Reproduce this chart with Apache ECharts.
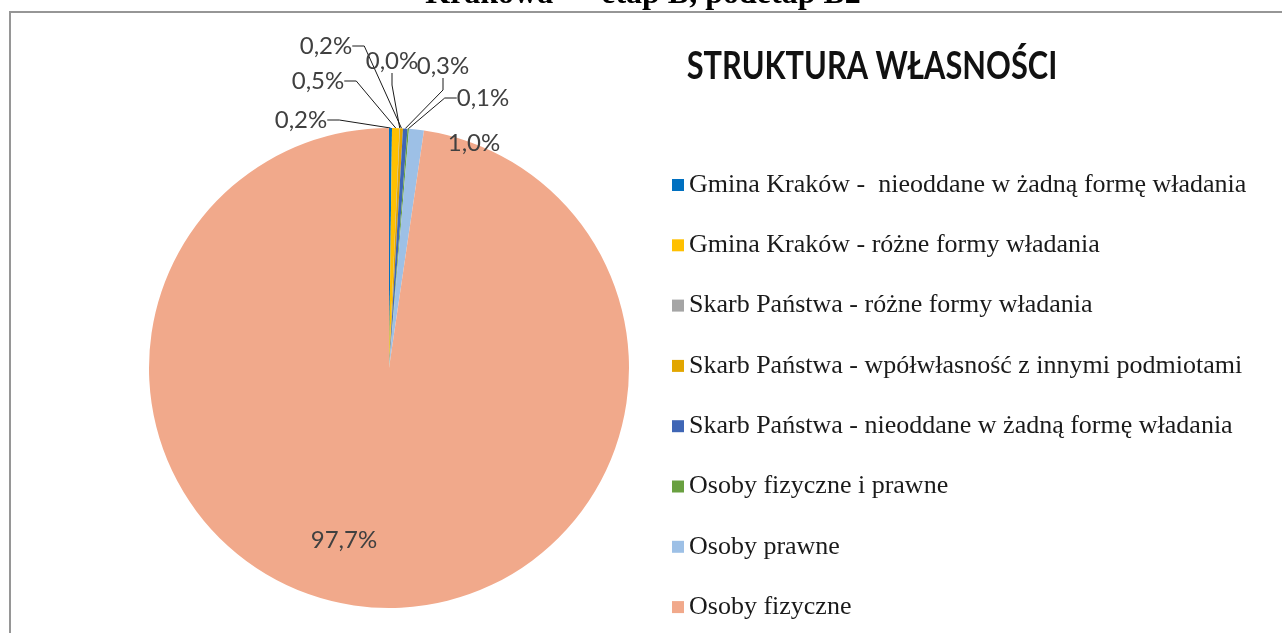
<!DOCTYPE html>
<html>
<head>
<meta charset="utf-8">
<title>Struktura własności</title>
<script src="https://cdn.jsdelivr.net/npm/echarts@6/dist/echarts.min.js"></script>
<style>
  html, body { margin: 0; padding: 0; background: #fff; }
  #chart { width: 1282px; height: 633px; }
</style>
</head>
<body>
<div id="chart"></div>
<script>
// kategorie (kolejność jak w legendzie)
const categories = [
  'Gmina Kraków -  nieoddane w żadną formę władania',
  'Gmina Kraków - różne formy władania',
  'Skarb Państwa - różne formy władania',
  'Skarb Państwa - wpółwłasność z innymi podmiotami',
  'Skarb Państwa - nieoddane w żadną formę władania',
  'Osoby fizyczne i prawne',
  'Osoby prawne',
  'Osoby fizyczne',
]
// udział procentowy
const shares = [0.2, 0.5, 0.03, 0.2, 0.3, 0.1, 1.0, 97.7]
const colors = ['#0070C0', '#FFC000', '#A5A5A5', '#E2A600', '#3F66B5', '#69A040', '#9DC0E6', '#F1A98B']

// pozycje etykiet (środek tekstu), ustawione ręcznie jak w oryginale
const labelPos = [
  [301, 120], [318, 81], [392, 61], [326, 46],
  [443, 66], [483, 98], [474, 143], [344, 540],
]

const chart = echarts.init(document.getElementById('chart'))

const pieData = categories.map((name, i) => {
  const item = { name, value: shares[i], itemStyle: { color: colors[i] } }
  if (i === 6) item.labelLine = { show: false }
  if (i === 7) {
    item.label = { position: 'inside' }
    item.labelLine = { show: false }
  }
  return item
})

chart.setOption({
  animation: false,
  graphic: [
    // ramka wykresu (lewa i górna krawędź)
    {
      type: 'polyline',
      silent: true,
      shape: { points: [[10, 700], [10, 12], [1300, 12]] },
      style: { stroke: '#969696', lineWidth: 2, fill: null },
    },
    // ucięty nagłówek dokumentu
    {
      type: 'text',
      silent: true,
      x: 643,
      y: -5,
      style: {
        text: 'Krakowa — etap B, podetap B2',
        font: 'bold 32px "Liberation Serif"',
        fill: '#000',
        align: 'center',
        verticalAlign: 'middle',
      },
    },
    // tytuł
    {
      type: 'text',
      silent: true,
      x: 872,
      y: 67,
      scaleX: 0.81,
      style: {
        text: 'STRUKTURA WŁASNOŚCI',
        font: 'bold 38px Lato',
        fill: '#111',
        align: 'center',
        verticalAlign: 'middle',
      },
    },
  ],
  legend: {
    orient: 'vertical',
    left: 667,
    top: 167,
    itemWidth: 12,
    itemHeight: 12,
    itemGap: 34.3,
    icon: 'rect',
    selectedMode: false,
    data: categories,
    textStyle: {
      fontFamily: '"Liberation Serif"',
      fontSize: 26,
      lineHeight: 26,
      color: '#1a1a1a',
    },
  },
  series: [
    {
      type: 'pie',
      center: [389, 368],
      radius: 240,
      startAngle: 90,
      clockwise: true,
      avoidLabelOverlap: false,
      emphasis: { disabled: true },
      data: pieData,
      label: {
        show: true,
        position: 'outside',
        fontFamily: 'Lato',
        fontSize: 24,
        color: '#404040',
        formatter: (p) => p.value.toFixed(1).replace('.', ',') + '%',
      },
      labelLine: {
        show: true,
        length: 10,
        length2: 12,
        lineStyle: { color: '#1a1a1a', width: 1 },
      },
      labelLayout: (params) => {
        const pos = labelPos[params.dataIndex]
        return { x: pos[0], y: pos[1], align: 'center', verticalAlign: 'middle' }
      },
    },
  ],
})
</script>
</body>
</html>
